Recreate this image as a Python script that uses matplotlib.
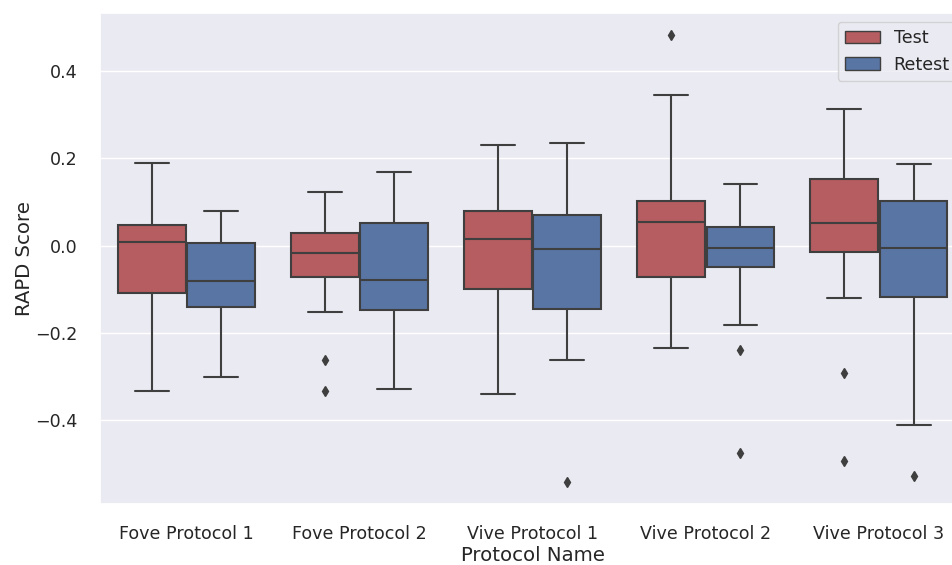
import numpy as np
import seaborn as sns
import matplotlib
matplotlib.use('Agg')
import matplotlib.pyplot as plt
from matplotlib.patches import Patch

protocols = ['Fove Protocol 1', 'Fove Protocol 2', 'Vive Protocol 1',
             'Vive Protocol 2', 'Vive Protocol 3']

# box statistics
test_whislo = [-0.333, -0.153, -0.339, -0.235, -0.121]
test_q1 = [-0.108, -0.072, -0.100, -0.072, -0.015]
test_med = [0.008, -0.018, 0.016, 0.054, 0.051]
test_q3 = [0.047, 0.030, 0.079, 0.103, 0.153]
test_whishi = [0.189, 0.123, 0.231, 0.345, 0.313]
test_fliers = [[], [-0.262, -0.334], [], [0.483], [-0.292, -0.494]]

retest_whislo = [-0.300, -0.328, -0.262, -0.181, -0.410]
retest_q1 = [-0.140, -0.147, -0.146, -0.050, -0.117]
retest_med = [-0.081, -0.079, -0.007, -0.005, -0.006]
retest_q3 = [0.005, 0.052, 0.070, 0.042, 0.102]
retest_whishi = [0.080, 0.168, 0.234, 0.141, 0.186]
retest_fliers = [[], [], [-0.541], [-0.240, -0.476], [-0.528]]

sns.set_theme(style='darkgrid', context='notebook', font_scale=1.2)
sns.set_color_codes('deep')
red = sns.desaturate('r', 0.75)
blue = sns.desaturate('b', 0.75)
gray = '#3f3f3f'


def make_stats(lo, q1, med, q3, hi, fl):
    return [dict(whislo=lo[i], q1=q1[i], med=med[i], q3=q3[i], whishi=hi[i],
                 fliers=fl[i]) for i in range(len(lo))]


fig = plt.figure(figsize=(9.52, 5.65), dpi=100)
ax = fig.add_axes([100 / 952, 61 / 565, 865.5 / 952, 491 / 565])

x = np.arange(len(protocols))
line = dict(color=gray, linewidth=1.5)
flier = dict(marker='d', markerfacecolor=gray, markeredgecolor=gray,
             markersize=5, linestyle='none')

for stats, off, col in [
        (make_stats(test_whislo, test_q1, test_med, test_q3, test_whishi,
                    test_fliers), -0.2, red),
        (make_stats(retest_whislo, retest_q1, retest_med, retest_q3,
                    retest_whishi, retest_fliers), 0.2, blue)]:
    ax.bxp(stats, positions=x + off, widths=0.392, capwidths=0.196,
           patch_artist=True, manage_ticks=False,
           boxprops=dict(facecolor=col, edgecolor=gray, linewidth=1.5),
           medianprops=line, whiskerprops=line, capprops=line,
           flierprops=flier)

ax.set_xlim(-0.5, 4.5)
ax.set_ylim(-0.592, 0.533)
ax.xaxis.grid(False)
ax.set_xticks(x)
ax.set_xticklabels(protocols, fontsize=12.6)
ax.set_yticks([-0.4, -0.2, 0.0, 0.2, 0.4])
ax.set_yticklabels(['\u22120.4', '\u22120.2', '0.0', '0.2', '0.4'],
                   fontsize=12.6)
ax.tick_params(axis='x', pad=9)
ax.tick_params(axis='y', pad=10)
ax.set_xlabel('Protocol Name', fontsize=14.2, labelpad=2.5)
ax.set_ylabel('RAPD Score', fontsize=14.2, labelpad=1)

handles = [Patch(facecolor=red, edgecolor=gray, label='Test'),
           Patch(facecolor=blue, edgecolor=gray, label='Retest')]
ax.legend(handles=handles, loc='upper right', fontsize=12.6)

fig.savefig('out.png', dpi=100)
